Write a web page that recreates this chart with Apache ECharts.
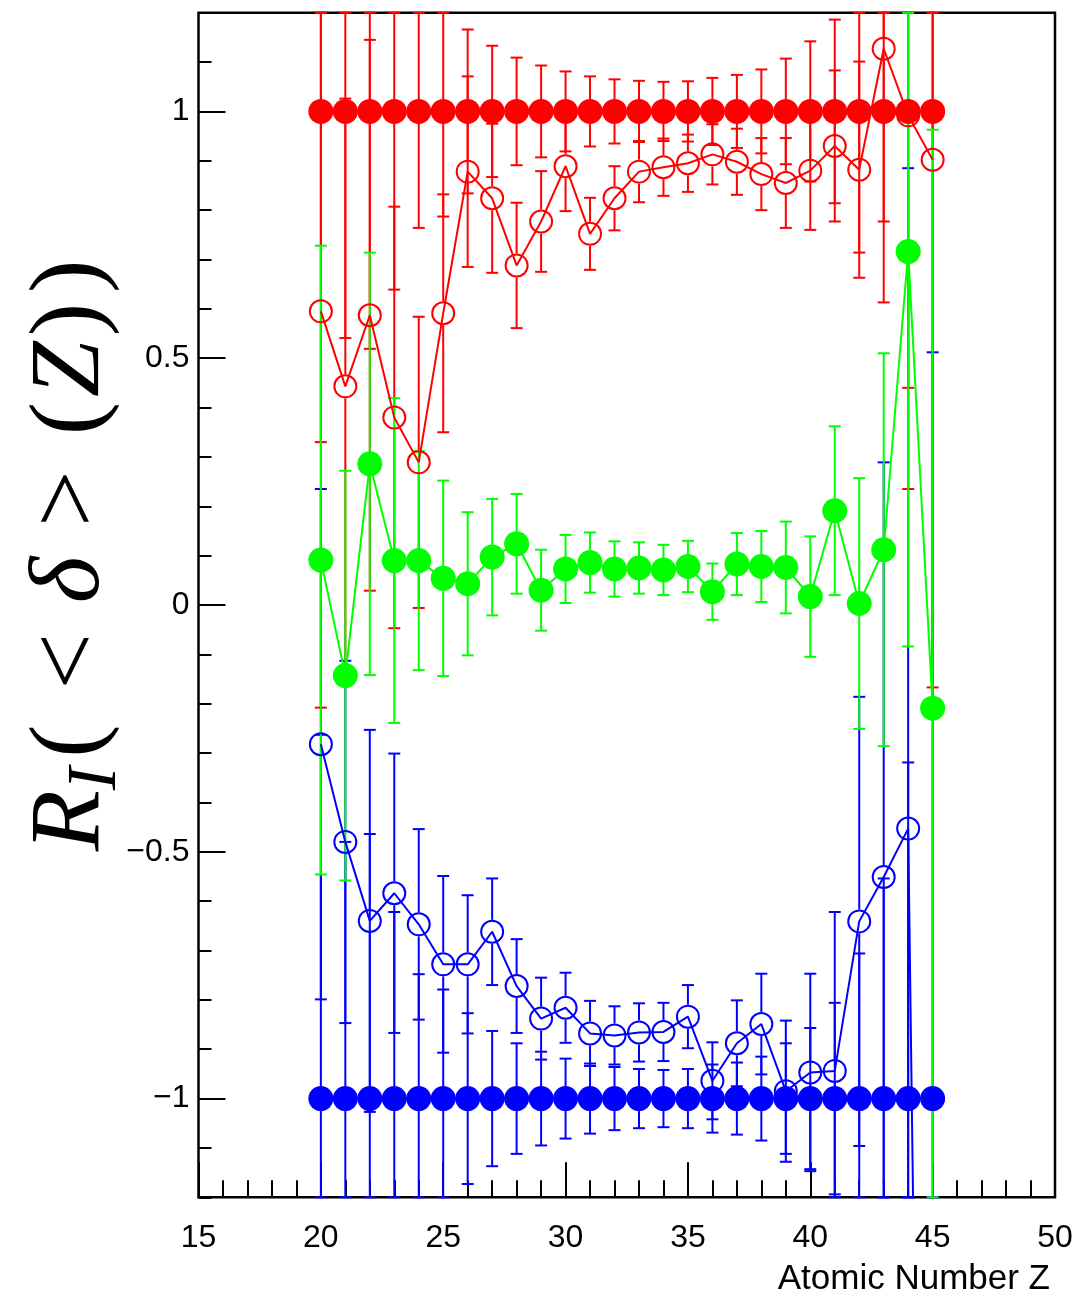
<!DOCTYPE html>
<html>
<head>
<meta charset="utf-8">
<script src="https://cdn.jsdelivr.net/npm/echarts@6/dist/echarts.min.js"></script>
<style>
  html, body { margin: 0; padding: 0; background: #ffffff; }
  #chart { width: 1088px; height: 1300px; }
</style>
</head>
<body>
<div id="chart"></div>
<script>
// Atomic numbers of the measured elements
const atomicZ = [20, 21, 22, 23, 24, 25, 26, 27, 28, 29, 30, 31, 32, 33, 34, 35, 36, 37, 38, 39, 40, 41, 42, 43, 44, 45];

// Red: filled (reference) and open (measured) points with symmetric errors
const redFilled    = [1, 1, 1, 1, 1, 1, 1, 1, 1, 1, 1, 1, 1, 1, 1, 1, 1, 1, 1, 1, 1, 1, 1, 1, 1, 1];
const redFilledErr = [0.670, 0.459, 0.481, 0.361, 0.236, 0.213, 0.166, 0.133, 0.109, 0.093, 0.081, 0.071, 0.065, 0.062, 0.060, 0.061, 0.068, 0.074, 0.085, 0.107, 0.142, 0.186, 0.286, 0.387, 0.765, 1.195];
const redOpen      = [0.595, 0.443, 0.587, 0.380, 0.289, 0.591, 0.878, 0.824, 0.688, 0.777, 0.889, 0.752, 0.824, 0.878, 0.887, 0.895, 0.913, 0.898, 0.873, 0.855, 0.880, 0.930, 0.882, 1.127, 0.992, 0.902];
const redOpenErr   = [0.803, 0.583, 0.558, 0.427, 0.295, 0.241, 0.193, 0.151, 0.127, 0.102, 0.091, 0.073, 0.065, 0.062, 0.058, 0.058, 0.061, 0.067, 0.073, 0.091, 0.120, 0.153, 0.219, 0.350, 0.552, 1.069];

// Green: filled points
const greenFilled    = [0.091, -0.143, 0.286, 0.090, 0.090, 0.054, 0.043, 0.097, 0.124, 0.030, 0.073, 0.086, 0.073, 0.075, 0.071, 0.078, 0.027, 0.083, 0.078, 0.076, 0.017, 0.191, 0.003, 0.112, 0.716, -0.209];
const greenFilledErr = [0.637, 0.415, 0.428, 0.329, 0.222, 0.198, 0.145, 0.118, 0.101, 0.082, 0.069, 0.061, 0.056, 0.052, 0.051, 0.052, 0.057, 0.063, 0.072, 0.093, 0.122, 0.171, 0.254, 0.398, 0.800, 1.172];

// Blue: filled (reference) and open (measured) points
const blueFilled    = [-1, -1, -1, -1, -1, -1, -1, -1, -1, -1, -1, -1, -1, -1, -1, -1, -1, -1, -1, -1, -1, -1, -1, -1, -1, -1];
const blueFilledErr = [0.737, 0.520, 0.536, 0.378, 0.252, 0.221, 0.173, 0.137, 0.112, 0.095, 0.081, 0.071, 0.064, 0.060, 0.058, 0.060, 0.069, 0.073, 0.085, 0.112, 0.143, 0.194, 0.294, 0.446, 0.681, 1.512];
const blueOpen      = [-0.282, -0.480, -0.640, -0.584, -0.647, -0.728, -0.728, -0.662, -0.772, -0.838, -0.816, -0.868, -0.872, -0.866, -0.865, -0.834, -0.964, -0.888, -0.849, -0.985, -0.947, -0.944, -0.641, -0.551, -0.453, -4.2];
const blueOpenErr   = [0.517, 0.367, 0.387, 0.283, 0.193, 0.179, 0.140, 0.108, 0.095, 0.083, 0.071, 0.066, 0.059, 0.059, 0.059, 0.064, 0.078, 0.087, 0.102, 0.143, 0.200, 0.322, 0.455, 0.840, 1.338, 1.000];

// Axis ticks and labels
const xTickValues = [15, 20, 25, 30, 35, 40, 45, 50];
const yMajorTicks = [-1, -0.5, 0, 0.5, 1];
const Y_MIN = -1.2, Y_MAX = 1.2;

const RED = '#ff0000', GREEN = '#00ff00', BLUE = '#0000ff';
const SANS = '"Liberation Sans", Arial, Helvetica, sans-serif';
const SERIF = '"Liberation Serif", "Times New Roman", serif';

const points = (vals) => atomicZ.map((z, i) => [z, vals[i]]);
const withErr = (vals, errs) => atomicZ.map((z, i) => [z, vals[i], errs[i]]);

// Vertical error bars with end caps; bars running past the frame end in a cap on the frame edge.
function errorBarRenderer(color, gap) {
  return function (params, api) {
    const z = api.value(0), v = api.value(1), e = api.value(2);
    const lo = v - e, hi = v + e;
    if (hi < Y_MIN || lo > Y_MAX) return null;
    const top = api.coord([z, Math.min(hi, Y_MAX)]);
    const bot = api.coord([z, Math.max(lo, Y_MIN)]);
    const mid = api.coord([z, v]);
    const x = mid[0], cap = 6;
    const style = { stroke: color, lineWidth: 2 };
    const children = [];
    const upEnd = Math.min(mid[1] - gap, bot[1]);
    if (upEnd > top[1]) children.push({ type: 'line', shape: { x1: x, y1: top[1], x2: x, y2: upEnd }, style });
    const dnStart = Math.max(mid[1] + gap, top[1]);
    if (bot[1] > dnStart) children.push({ type: 'line', shape: { x1: x, y1: dnStart, x2: x, y2: bot[1] }, style });
    children.push({ type: 'line', shape: { x1: x - cap, y1: top[1], x2: x + cap, y2: top[1] }, style });
    children.push({ type: 'line', shape: { x1: x - cap, y1: bot[1], x2: x + cap, y2: bot[1] }, style });
    return { type: 'group', children };
  };
}

function errSeries(vals, errs, color) {
  return {
    type: 'custom', silent: true, animation: false,
    data: withErr(vals, errs),
    encode: { x: 0, y: 1 },
    renderItem: errorBarRenderer(color, 12)
  };
}

function filledSeries(vals, color) {
  return {
    type: 'line', silent: true, animation: false,
    data: points(vals),
    symbol: 'circle', symbolSize: 25,
    itemStyle: { color: color },
    lineStyle: { color: color, width: 2 },
    emphasis: { disabled: true }
  };
}

function openSeries(vals, color) {
  return {
    type: 'line', silent: true, animation: false,
    data: points(vals),
    symbol: 'circle', symbolSize: 22,
    itemStyle: { color: 'rgba(0,0,0,0)', borderColor: color, borderWidth: 2 },
    lineStyle: { color: color, width: 2 },
    emphasis: { disabled: true }
  };
}

const chart = echarts.init(document.getElementById('chart'), null, { renderer: 'canvas' });

const option = {
  animation: false,
  backgroundColor: '#ffffff',
  grid: {
    left: 198.5, top: 12.7, width: 856.5, height: 1184.6,
    show: true, borderColor: '#000000', borderWidth: 2.5, backgroundColor: 'transparent'
  },
  xAxis: {
    type: 'value', min: 15, max: 50, interval: 5,
    axisLine: { show: false, onZero: false },
    splitLine: { show: false },
    axisTick: { show: true, inside: true, length: 35, lineStyle: { color: '#000', width: 2 } },
    minorTick: { show: true, splitNumber: 5, length: 17, lineStyle: { color: '#000', width: 2 } },
    axisLabel: {
      customValues: xTickValues,
      fontSize: 32, fontFamily: SANS, color: '#000', margin: 25
    }
  },
  yAxis: [
    {
      type: 'value', min: Y_MIN, max: Y_MAX, position: 'left',
      axisLine: { show: false, onZero: false },
      splitLine: { show: false },
      axisTick: { show: true, inside: true, length: 27, customValues: yMajorTicks, lineStyle: { color: '#000', width: 2 } },
      axisLabel: {
        customValues: yMajorTicks,
        fontSize: 32, fontFamily: SANS, color: '#000', margin: 9,
        formatter: (v) => (v < 0 ? '\u2212' + String(Math.abs(v)) : String(v))
      }
    },
    {
      type: 'value', min: Y_MIN, max: Y_MAX, interval: 0.1, position: 'left',
      axisLine: { show: false, onZero: false },
      splitLine: { show: false },
      axisTick: { show: true, inside: true, length: 13, lineStyle: { color: '#000', width: 2 } },
      axisLabel: { show: false }
    }
  ],
  series: [
    errSeries(blueFilled, blueFilledErr, BLUE),
    errSeries(blueOpen, blueOpenErr, BLUE),
    filledSeries(blueFilled, BLUE),
    openSeries(blueOpen, BLUE),
    errSeries(redFilled, redFilledErr, RED),
    errSeries(redOpen, redOpenErr, RED),
    openSeries(redOpen, RED),
    filledSeries(redFilled, RED),
    errSeries(greenFilled, greenFilledErr, GREEN),
    filledSeries(greenFilled, GREEN)
  ],
  graphic: [
    {
      type: 'text', x: 72, y: 553, rotation: Math.PI / 2, silent: true,
      style: {
        text: '{r|R}{s|I}{p|(}{o|<}{d|\u03b4}{o|>}{p|(}{r|Z}{p|)}{p|)}',
        align: 'center', verticalAlign: 'middle', fill: '#000',
        rich: {
          r: { fontFamily: SERIF, fontStyle: 'italic', fontSize: 100, lineHeight: 120, fill: '#000' },
          s: { fontFamily: SERIF, fontStyle: 'italic', fontSize: 70, lineHeight: 70, verticalAlign: 'bottom', padding: [0, 4, 0, 0], fill: '#000' },
          p: { fontFamily: SERIF, fontSize: 100, lineHeight: 120, padding: [0, 5, 0, 5], fill: '#000' },
          o: { fontFamily: SERIF, fontSize: 100, lineHeight: 120, padding: [0, 30, 0, 30], fill: '#000' },
          d: { fontFamily: SERIF, fontStyle: 'italic', fontSize: 100, lineHeight: 120, fill: '#000' }
        }
      }
    },
    {
      type: 'text', x: 1050, y: 1279, silent: true,
      style: {
        text: 'Atomic Number Z',
        font: '35px ' + SANS,
        align: 'right', verticalAlign: 'middle', fill: '#000'
      }
    }
  ]
};

chart.setOption(option);
</script>
</body>
</html>
